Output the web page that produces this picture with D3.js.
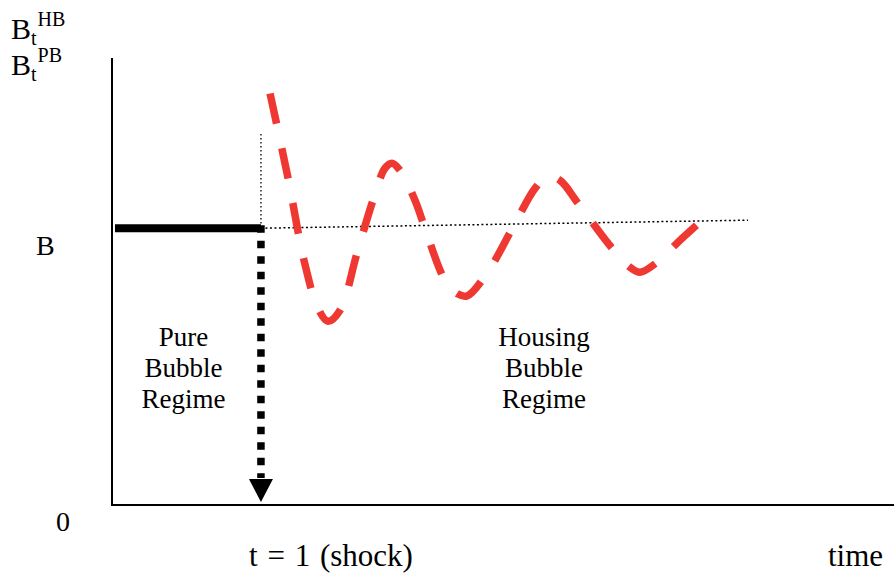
<!DOCTYPE html>
<html>
<head>
<meta charset="utf-8">
<script src="https://cdn.jsdelivr.net/npm/d3@7"></script>
<style>
  html, body { margin: 0; padding: 0; background: #fff; }
  svg { display: block; }
</style>
</head>
<body>
<svg id="chart" width="894" height="573"></svg>
<script>
// ---- data ----
const shockTime = 1;          // t = 1 (shock)
const steadyLevel = 1;        // B
// pure bubble regime: constant B before the shock
const pureTimes = [0.02, 1.0];
const pureValues = [1.0, 1.0];
// housing bubble regime: damped oscillation after the shock
const housingTimes = [1.061, 1.182, 1.289, 1.383, 1.450, 1.531, 1.645, 1.752, 1.833, 1.880, 1.934, 2.034, 2.101,
                      2.236, 2.323, 2.383, 2.518, 2.706, 2.840, 2.927, 3.008, 3.129, 3.357, 3.478, 3.545, 3.659, 3.793, 3.948];
const housingValues = [1.487, 1.181, 0.884, 0.711, 0.664, 0.704, 0.910, 1.101, 1.217, 1.235, 1.209, 1.101, 1.000,
                       0.812, 0.762, 0.755, 0.838, 1.018, 1.144, 1.188, 1.173, 1.090, 0.928, 0.859, 0.841, 0.877, 0.946, 1.022];
// reference (trend) dotted line
const refTimes = [1.0, 4.27];
const refValues = [1.0, 1.029];
// thin dotted marker above the shock
const markerValues = [1.0, 1.34];
const regimeLabels = [["Pure", "Bubble", "Regime"], ["Housing", "Bubble", "Regime"]];
const regimeTimes = [0.48, 2.90];

const FONT = "Liberation Serif";

// ---- scales ----
const svg = d3.select("#chart");
const x = d3.scaleLinear().domain([0, 5.25]).range([112, 894]);
const y = d3.scaleLinear().domain([0, 1.615]).range([505, 58]);

// axes
svg.append("line").attr("x1", x(0)).attr("x2", x(0)).attr("y1", y(1.615)).attr("y2", y(0) + 1)
  .attr("stroke", "#000").attr("stroke-width", 2);
svg.append("line").attr("x1", x(0) - 1).attr("x2", x(5.25)).attr("y1", y(0)).attr("y2", y(0))
  .attr("stroke", "#000").attr("stroke-width", 2);

// thin dotted marker above the shock
svg.append("line").attr("x1", x(shockTime)).attr("x2", x(shockTime))
  .attr("y1", y(markerValues[1])).attr("y2", y(markerValues[0]))
  .attr("stroke", "#000").attr("stroke-width", 1.3).attr("stroke-dasharray", "1.5,2.5");

// thin dotted trend line
svg.append("line").attr("x1", x(refTimes[0])).attr("x2", x(refTimes[1]))
  .attr("y1", y(refValues[0])).attr("y2", y(refValues[1]))
  .attr("stroke", "#000").attr("stroke-width", 1.5).attr("stroke-dasharray", "2,2.5");

// pure bubble regime thick line
const line = d3.line().x(d => x(d[0])).y(d => y(d[1]));
svg.append("path").datum(d3.zip(pureTimes, pureValues)).attr("d", line)
  .attr("fill", "none").attr("stroke", "#000").attr("stroke-width", 8);

// dotted arrow down to the time axis
svg.append("line").attr("x1", x(shockTime)).attr("x2", x(shockTime))
  .attr("y1", y(steadyLevel) - 3).attr("y2", y(0) - 27)
  .attr("stroke", "#000").attr("stroke-width", 7.5).attr("stroke-dasharray", "7.5,8");
const ax = x(shockTime);
svg.append("path")
  .attr("d", `M${ax - 12},${y(0) - 26} L${ax + 12},${y(0) - 26} L${ax},${y(0) - 3} Z`)
  .attr("fill", "#000");

// housing bubble red dashed curve
const curve = d3.line().x(d => x(d[0])).y(d => y(d[1])).curve(d3.curveCatmullRom.alpha(0.5));
svg.append("path").datum(d3.zip(housingTimes, housingValues)).attr("d", curve)
  .attr("fill", "none").attr("stroke", "#ef3832").attr("stroke-width", 7.5)
  .attr("stroke-dasharray", "31,25");

// regime labels
regimeLabels.forEach((lines, i) => {
  const t = svg.append("text").attr("text-anchor", "middle").attr("font-size", 27)
    .style("font-family", FONT);
  lines.forEach((s, j) => {
    t.append("tspan").attr("x", x(regimeTimes[i])).attr("y", 346 + j * 31).text(s);
  });
});

// y labels
svg.append("text").attr("x", 36).attr("y", y(steadyLevel) + 27).attr("font-size", 28)
  .style("font-family", FONT).text("B");
svg.append("text").attr("x", 56).attr("y", y(0) + 26).attr("font-size", 28)
  .style("font-family", FONT).text("0");

function bLabel(yb, sup) {
  const t = svg.append("text").attr("x", 11).attr("y", yb).attr("font-size", 30)
    .style("font-family", FONT);
  t.append("tspan").text("B");
  t.append("tspan").attr("font-size", 20).attr("dy", 6).text("t");
  t.append("tspan").attr("font-size", 20).attr("dy", -19).attr("dx", 1).text(sup);
}
bLabel(39, "HB");
bLabel(75, "PB");

// x labels
svg.append("text").attr("x", 331).attr("y", 566).attr("text-anchor", "middle")
  .attr("font-size", 31).attr("word-spacing", 2).style("font-family", FONT).text("t = 1 (shock)");
svg.append("text").attr("x", 828).attr("y", 566).attr("font-size", 31)
  .style("font-family", FONT).text("time");
</script>
</body>
</html>
